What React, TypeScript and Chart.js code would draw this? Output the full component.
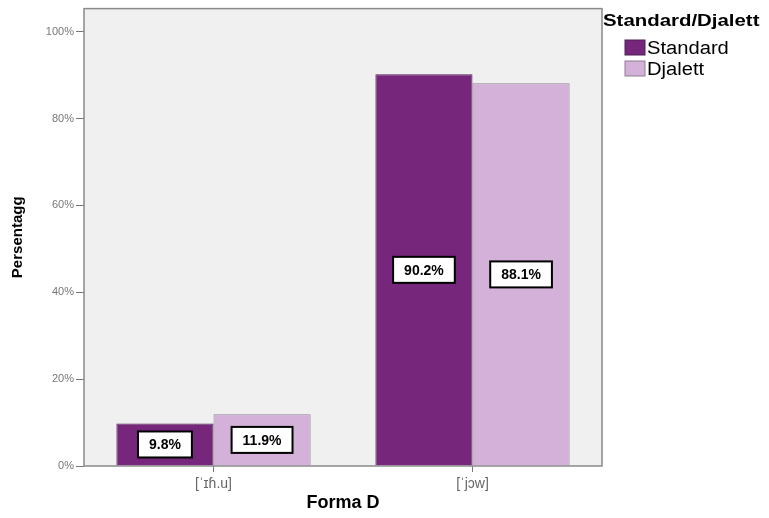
import React, { useEffect, useRef } from "react";
import { Chart, registerables } from "chart.js";

Chart.register(...registerables);

const categories = ["[ˈɪɦ.u]", "[ˈjɔw]"];
const seriesNames = ["Standard", "Djalett"];
const standardValues = [9.8, 90.2];
const djalettValues = [11.9, 88.1];
const yTicks = [0, 20, 40, 60, 80, 100];
const legendTitle = "Standard/Djalett";
const xTitle = "Forma D";
const yTitle = "Persentagg";

const colors = ["#76277b", "#d3b1d8"];
const borders = ["#4e2052", "#8d7f90"];

const FONT = "'Liberation Sans', Arial, sans-serif";

export default function App() {
  const ref = useRef<HTMLCanvasElement | null>(null);
  useEffect(() => {
    if (!ref.current) return;
    const bgPlugin = {
      id: "bg",
      beforeDraw(chart: any) {
        const { ctx, chartArea: a } = chart;
        ctx.save();
        ctx.fillStyle = "#f0f0f0";
        ctx.fillRect(a.left, a.top, a.right - a.left, a.bottom - a.top);
        ctx.restore();
      },
      afterDraw(chart: any) {
        const { ctx, chartArea: a } = chart;
        ctx.save();
        ctx.strokeStyle = "#8a8a8a";
        ctx.lineWidth = 1.5;
        ctx.strokeRect(a.left, a.top, a.right - a.left, a.bottom - a.top);
        // legend
        const lx = a.right + 1;
        ctx.textBaseline = "alphabetic";
        ctx.textAlign = "left";
        ctx.save();
        ctx.translate(lx, 26);
        ctx.scale(1.2, 1);
        ctx.fillStyle = "#000";
        ctx.font = `bold 17px ${FONT}`;
        ctx.fillText(legendTitle, 0, 0);
        ctx.restore();
        chart.data.datasets.forEach((ds: any, i: number) => {
          const y = 47 + i * 21;
          ctx.fillStyle = ds.backgroundColor;
          ctx.fillRect(lx + 22, y - 7, 20, 15);
          ctx.strokeStyle = ds.borderColor;
          ctx.lineWidth = 1;
          ctx.strokeRect(lx + 22, y - 7, 20, 15);
          ctx.save();
          ctx.translate(lx + 44, y + 7);
          ctx.scale(1.12, 1);
          ctx.fillStyle = "#000";
          ctx.font = `18px ${FONT}`;
          ctx.fillText(ds.label, 0, 0);
          ctx.restore();
        });
        ctx.restore();
      },
    };
    const labelPlugin = {
      id: "boxLabels",
      afterDatasetsDraw(chart: any) {
        const { ctx } = chart;
        ctx.save();
        ctx.font = `bold 14px ${FONT}`;
        ctx.textAlign = "center";
        ctx.textBaseline = "middle";
        chart.data.datasets.forEach((ds: any, di: number) => {
          const meta = chart.getDatasetMeta(di);
          meta.data.forEach((bar: any, i: number) => {
            const txt = ds.data[i].toFixed(1) + "%";
            const cx = bar.x;
            const cy = (bar.y + bar.base) / 2;
            const w = ctx.measureText(txt).width + 22;
            const h = 26;
            ctx.fillStyle = "#fff";
            ctx.fillRect(cx - w / 2, cy - h / 2, w, h);
            ctx.strokeStyle = "#000";
            ctx.lineWidth = 2;
            ctx.strokeRect(cx - w / 2, cy - h / 2, w, h);
            ctx.fillStyle = "#000";
            ctx.fillText(txt, cx, cy + 1);
          });
        });
        ctx.restore();
      },
    };
    const chart = new Chart(ref.current, {
      type: "bar",
      data: {
        labels: categories,
        datasets: [
          { label: seriesNames[0], data: standardValues, backgroundColor: colors[0], borderColor: borders[0], borderWidth: 1 },
          { label: seriesNames[1], data: djalettValues, backgroundColor: colors[1], borderColor: borders[1], borderWidth: 1 },
        ],
      },
      options: {
        animation: false,
        responsive: false,
        layout: { padding: { top: 8, right: 167, left: 0, bottom: 0 } },
        plugins: { legend: { display: false }, tooltip: { enabled: false } },
        datasets: { bar: { categoryPercentage: 0.75, barPercentage: 1 } },
        scales: {
          x: {
            grid: { drawOnChartArea: false, drawTicks: true, tickLength: 6, offset: false, color: "#777" },
            border: { display: false },
            ticks: { color: "#666", font: { family: FONT, size: 14 }, padding: 4 },
            title: { display: true, text: xTitle, color: "#000", font: { family: FONT, size: 18, weight: "bold" }, padding: { top: 1 } },
            afterFit(scale: any) { scale.height = 52; },
          },
          y: {
            min: 0,
            max: 105.3,
            afterBuildTicks(scale: any) { scale.ticks = yTicks.map((v) => ({ value: v })); },
            grid: { drawOnChartArea: false, drawTicks: true, tickLength: 8, color: "#777" },
            border: { display: false },
            ticks: { color: "#777", font: { family: FONT, size: 11 }, padding: 2, callback: (v: any) => v + "%" },
            title: { display: true, text: yTitle, color: "#000", font: { family: FONT, size: 15, weight: "bold" }, padding: { top: 9, bottom: 4 } },
            afterFit(scale: any) { scale.width = 84; },
          },
        },
      } as any,
      plugins: [bgPlugin, labelPlugin],
    });
    return () => chart.destroy();
  }, []);
  return (
    <div style={{ position: "absolute", left: 0, top: 0, width: 769, height: 518, background: "#fff" }}>
      <canvas ref={ref} width={769} height={518} style={{ width: 769, height: 518 }} />
    </div>
  );
}
